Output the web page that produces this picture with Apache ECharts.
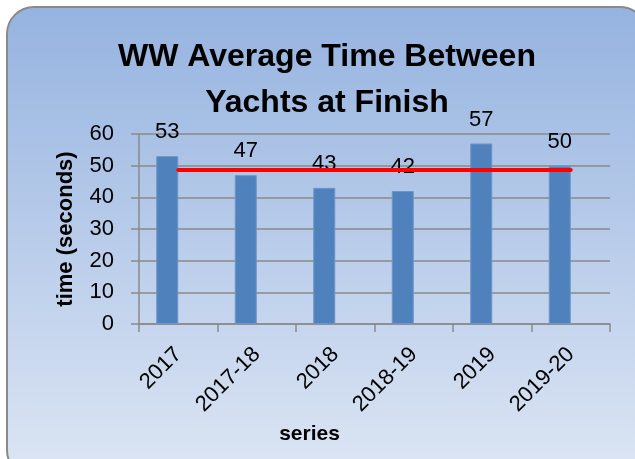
<!DOCTYPE html>
<html><head><meta charset="utf-8">
<script src="https://cdn.jsdelivr.net/npm/echarts@6/dist/echarts.min.js"></script>
<style>html,body{margin:0;padding:0;background:#fff}#c{width:635px;height:459px}</style>
</head><body><div id="c"></div>
<script>
const categories = ['2017','2017-18','2018','2018-19','2019','2019-20'];
const times = [53, 47, 43, 42, 57, 50];
const averageLine = [48.6, 48.6, 48.6, 48.6, 48.6, 48.6];
const yTicks = {min: 0, max: 60, interval: 10};
const titleText = 'WW Average Time Between\nYachts at Finish';
const FONT = 'Liberation Sans';

const chart = echarts.init(document.getElementById('c'), null, {renderer: 'canvas'});
chart.setOption({
  animation: false,
  backgroundColor: '#ffffff',
  graphic: [{
    type: 'rect', z: -10, silent: true,
    shape: {x: 7, y: 7, width: 640, height: 470, r: 27},
    style: {
      fill: new echarts.graphic.LinearGradient(0, 0, 0, 1, [
        {offset: 0, color: '#95B3E0'},
        {offset: 1, color: '#DDE6F4'}
      ]),
      stroke: '#8A8A8A', lineWidth: 2
    }
  }],
  title: {
    text: titleText, left: 322, textAlign: 'center', top: 29,
    textStyle: {fontFamily: FONT, fontWeight: 'bold', fontSize: 32, lineHeight: 46, color: '#000'}
  },
  grid: {left: 139, right: 25, top: 134, bottom: 135},
  xAxis: {
    type: 'category', data: categories,
    name: 'series', nameLocation: 'middle', nameGap: 100,
    nameTextStyle: {fontFamily: FONT, fontWeight: 'bold', fontSize: 21, color: '#000', padding: [0, 130, 0, 0]},
    axisLine: {lineStyle: {color: '#8A8A8A', width: 1.5}},
    axisTick: {show: true, length: 8, lineStyle: {color: '#8A8A8A', width: 1.5}},
    axisLabel: {rotate: 45, margin: 27, fontFamily: FONT, fontSize: 22, color: '#000'}
  },
  yAxis: {
    type: 'value', min: yTicks.min, max: yTicks.max, interval: yTicks.interval,
    name: 'time (seconds)', nameLocation: 'middle', nameGap: 62, nameRotate: 90,
    nameTextStyle: {fontFamily: FONT, fontWeight: 'bold', fontSize: 22, color: '#000'},
    axisLine: {show: true, lineStyle: {color: '#8A8A8A', width: 1.5}},
    axisTick: {show: true, length: 8, lineStyle: {color: '#8A8A8A', width: 1.5}},
    axisLabel: {margin: 25, fontFamily: FONT, fontSize: 22, color: '#000'},
    splitLine: {lineStyle: {color: '#8A8A8A', width: 1.5}}
  },
  series: [
    {
      type: 'bar', data: times, barWidth: 22, barGap: '0%',
      itemStyle: {color: '#4F81BD', borderColor: '#6C95C8', borderWidth: 1},
      label: {show: true, position: 'top', distance: 13, fontFamily: FONT, fontSize: 22, color: '#000'}
    },
    {type: 'bar', data: [], barWidth: 22, barGap: '0%'},
    {
      type: 'line', data: averageLine, symbol: 'none', zlevel: 1,
      lineStyle: {color: '#FF0000', width: 4, cap: 'round'}
    }
  ]
});
</script></body></html>
